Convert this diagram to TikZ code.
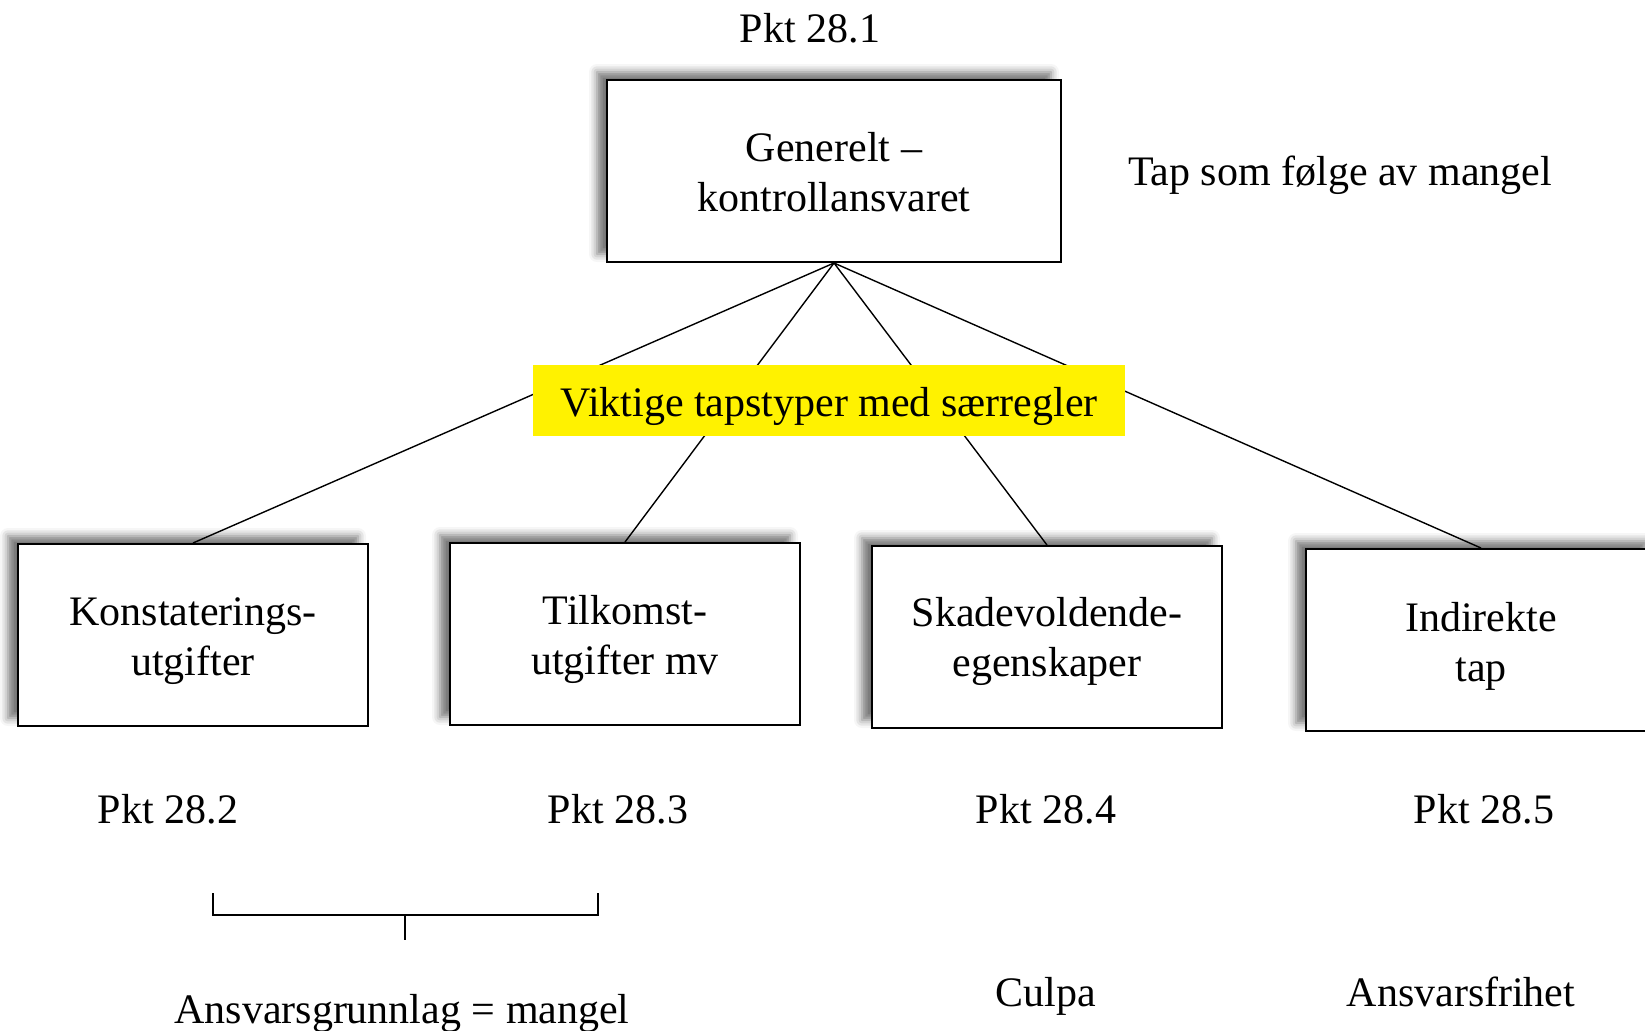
\documentclass[tikz,border=0pt]{standalone}
\usepackage{fontspec}
\setmainfont{Liberation Serif}
\usetikzlibrary{positioning,shadows.blur}
\tikzset{ lossbox/.style={draw,line width=1pt,fill=white,inner sep=0pt,
    minimum width=175pt,minimum height=91pt,
    blur shadow={shadow xshift=-5pt,shadow yshift=4pt,shadow blur radius=4pt,shadow opacity=55}} }
\tikzset{ hovedbox/.style={lossbox,minimum width=227pt} }
\tikzset{ gulmerke/.style={fill=yellow,inner sep=0pt,minimum width=296pt,minimum height=35.5pt} }
\tikzset{ gren/.style={line width=0.7pt} }
\newcommand{\senk}[2][2.7pt]{\raisebox{-#1}[\height][\depth]{\begin{tabular}{@{}c@{}}#2\end{tabular}}}

\begin{document}
\begin{tikzpicture}[x=0.5pt,y=-0.5pt,font=\fontsize{21}{25}\selectfont]
   \useasboundingbox (0,0) rectangle (1645,1030);
   \node[hovedbox] (gen) at (834,171) {\senk[2.5pt]{Generelt –\\kontrollansvaret}};
   \node (pkt1) at (810,28) {Pkt 28.1};
   \node (tap) at (1340,175) {Tap som følge av mangel};
   \node[lossbox] (konst) at (193,635) {\senk{Konstaterings-\\utgifter}};
   \node[lossbox] (tilk) at (625,634) {\senk{Tilkomst-\\utgifter mv}};
   \node[lossbox] (skade) at (1047,637) {\senk[2.4pt]{Skadevoldende-\\egenskaper}};
   \node[lossbox] (indir) at (1481,640) {\senk[3pt]{Indirekte\\tap}};
   \foreach \b in {konst,tilk,skade,indir}
      \draw[gren] (gen.south) -- (\b.north);
   \node[gulmerke] (viktig) at (829,400) {\senk[3pt]{Viktige tapstyper med særregler}};
   \node (pkt2) at (168,809) {Pkt 28.2};
   \node (pkt3) at (618,809) {Pkt 28.3};
   \node (pkt4) at (1046,809) {Pkt 28.4};
   \node (pkt5) at (1484,809) {Pkt 28.5};
   % klamme under 28.2 og 28.3
   \coordinate (kl) at (213,893);
   \coordinate (kr) at (598,893);
   \coordinate (km) at (405,915);
   \draw[line width=1pt] (kl) -- ++(0,22) -| (kr);
   \draw[line width=1pt] (km) -- ++(0,25);
   \node (grunn) at (402,1013) {Ansvarsgrunnlag = mangel};
   \node (culpa) at (1046,996) {Culpa};
   \node (frihet) at (1461,992) {Ansvarsfrihet};
\end{tikzpicture}
\end{document}
